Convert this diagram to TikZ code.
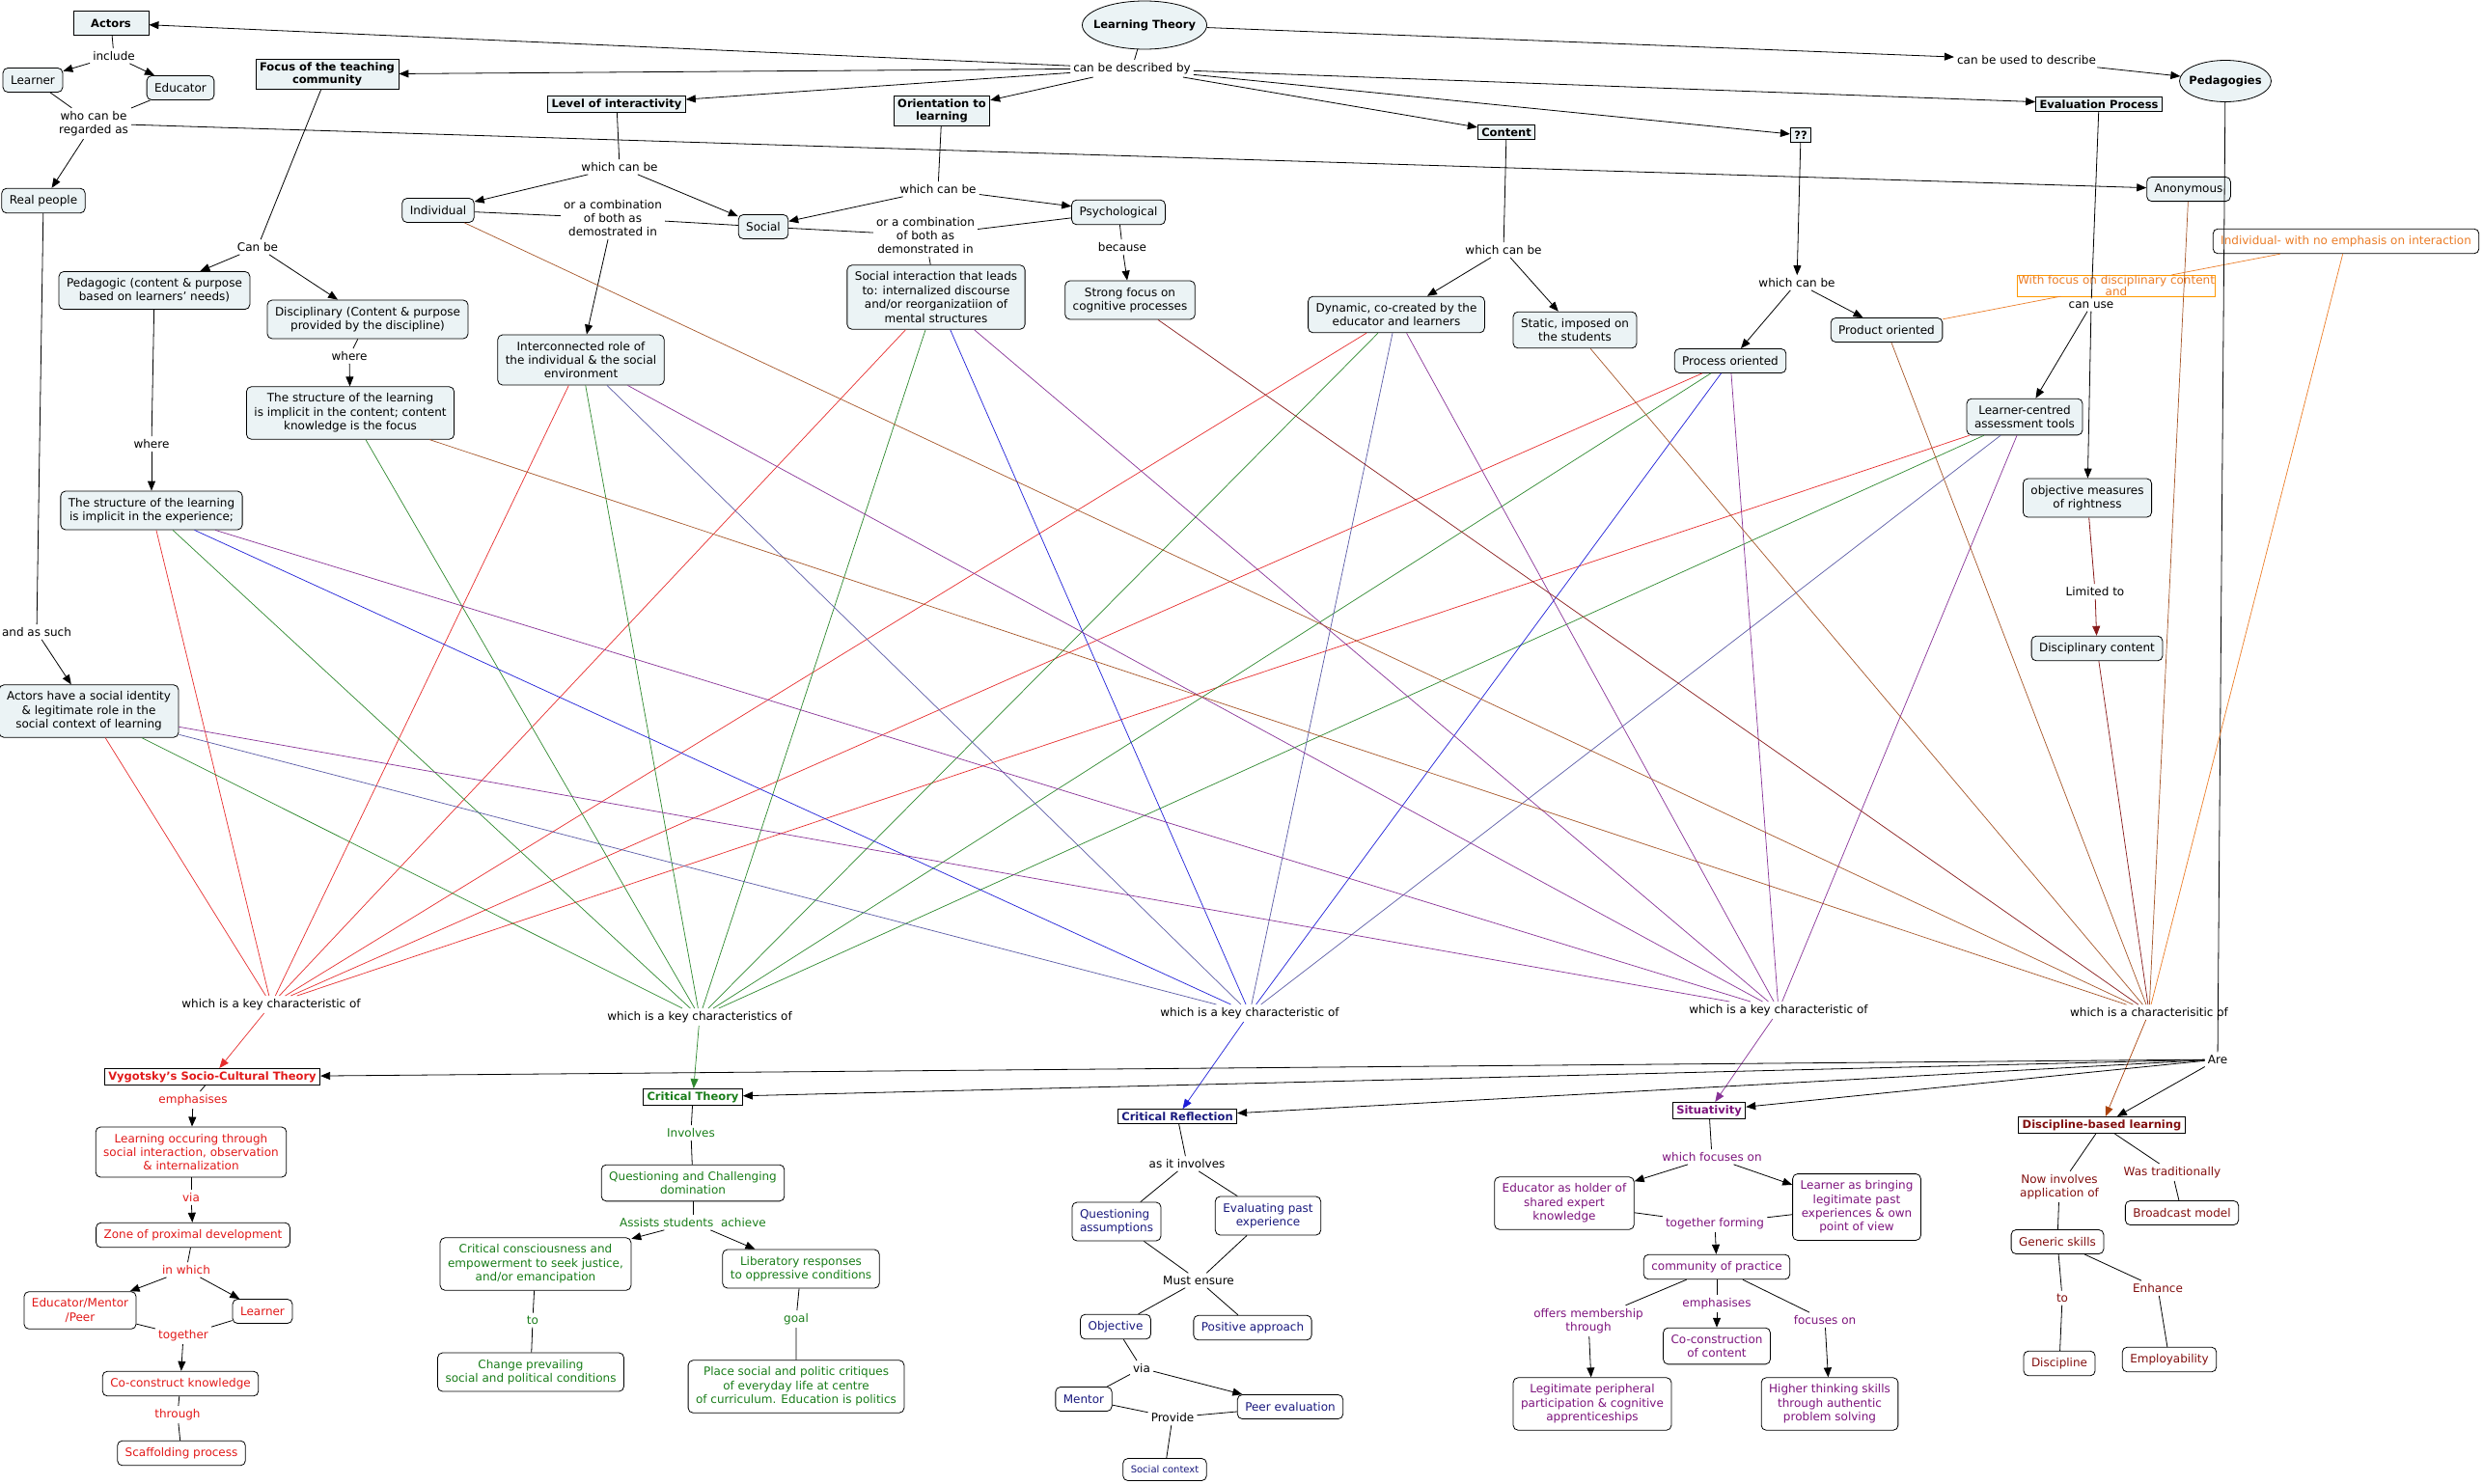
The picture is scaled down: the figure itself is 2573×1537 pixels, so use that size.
\documentclass[tikz,border=0pt]{standalone}
\usepackage{fontspec}
\setmainfont{DejaVu Sans}
\usetikzlibrary{arrows.meta, shapes.geometric, positioning}
\definecolor{cfill}{RGB}{235,243,245}
\definecolor{vred}{RGB}{225,25,25}
\definecolor{vgreen}{RGB}{25,125,25}
\definecolor{vnavy}{RGB}{25,25,125}
\definecolor{vpurple}{RGB}{125,20,125}
\definecolor{vmaroon}{RGB}{130,15,15}
\definecolor{lred}{RGB}{230,45,45}
\definecolor{lgreen}{RGB}{45,135,45}
\definecolor{lblue}{RGB}{30,30,215}
\definecolor{lslate}{RGB}{90,90,165}
\definecolor{lpurple}{RGB}{135,50,150}
\definecolor{lbrown}{RGB}{165,85,40}
\definecolor{lmaroon}{RGB}{135,25,25}
\definecolor{lorange}{RGB}{235,125,40}
\definecolor{lrust}{RGB}{170,65,10}

\begin{document}
\begin{tikzpicture}[
  x=1pt, y=-1pt,
  every node/.style={font=\fontsize{12}{14.4}\selectfont},
  concept/.style={rectangle, draw, rounded corners=5pt, fill=cfill, align=center,
    inner xsep=8pt, inner ysep=7pt, minimum height=25pt, line width=0.8pt},
  plainbox/.style={concept, fill=white},
  topic/.style={rectangle, draw, fill=cfill, align=center, inner xsep=4pt,
    inner ysep=3pt, line width=0.8pt, font=\fontsize{11.5}{13.5}\selectfont\bfseries},
  theory/.style={topic, fill=white},
  oval/.style={ellipse, draw, fill=cfill, line width=0.8pt, inner sep=0pt,
    font=\fontsize{11.5}{13.5}\selectfont\bfseries},
  link/.style={align=center, inner sep=3pt},
  conn/.style={line width=0.8pt},
  arr/.style={-{Triangle[length=10pt, width=8pt]}, line width=0.8pt},
  cline/.style={line width=0.7pt}
]
\useasboundingbox (0,0) rectangle (2573,1537);

% top of the map
\node[oval, minimum width=129pt, minimum height=50pt] (lt) at (1186,26) {\makebox[0pt]{Learning Theory}};
\node[link] (ldesc) at (1173,71) {can be described by};
\node[link] (lused) at (2100,62) {can be used to describe};
\node[oval, minimum width=95pt, minimum height=43pt] (pedagogies) at (2306,84) {\makebox[0pt]{Pedagogies}};

\node[topic, minimum width=78pt, minimum height=25pt] (actors) at (115,24) {Actors};
\node[link] (linc) at (118,58) {include};
\node[concept] (learner) at (34,83) {Learner};
\node[concept] (educator) at (187,91) {Educator};
\node[link] (lregard) at (97,128) {who can be\\regarded as};
\node[concept] (real) at (45,208) {Real people};
\node[link] (lsuch) at (38,655) {and as such};
\node[concept] (identity) at (92,737) {Actors have a social identity\\\& legitimate role in the\\social context of learning};

\node[topic] (focus) at (339,77) {Focus of the teaching\\community};
\node[link] (lcanbe) at (267,256) {Can be};
\node[concept] (pedag) at (160,301) {Pedagogic (content \& purpose\\based on learners' needs)};
\node[concept] (discip) at (381,331) {Disciplinary (Content \& purpose\\provided by the discipline)};
\node[link] (lwhere1) at (157,460) {where};
\node[link] (lwhere2) at (362,369) {where};
\node[concept] (sexp) at (157,529) {The structure of the learning\\is implicit in the experience;};
\node[concept] (scont) at (363,428) {The structure of the learning\\is implicit in the content; content\\knowledge is the focus};

\node[topic] (level) at (639,108) {Level of interactivity};
\node[link] (lwcb1) at (642,173) {which can be};
\node[concept] (indiv) at (454,218) {Individual};
\node[link] (lcomb1) at (635,226) {or a combination\\of both as\\demostrated in};
\node[concept] (social) at (791,235) {Social};
\node[concept] (interc) at (602,373) {Interconnected role of\\the individual \& the social\\environment};

\node[topic] (orient) at (976,115) {Orientation to\\learning};
\node[link] (lwcb2) at (972,196) {which can be};
\node[concept] (psych) at (1159,220) {Psychological};
\node[link] (lcomb2) at (959,244) {or a combination\\of both as\\demonstrated in};
\node[link] (lbecause) at (1163,256) {because};
\node[concept] (sinter) at (970,308) {Social interaction that leads\\to: internalized discourse\\and/or reorganizatiion of\\mental structures};
\node[concept] (strong) at (1171,311) {Strong focus on\\cognitive processes};

\node[topic] (content) at (1561,137) {Content};
\node[link] (lwcb3) at (1558,259) {which can be};
\node[concept] (dynamic) at (1447,326) {Dynamic, co-created by the\\educator and learners};
\node[concept] (static) at (1632,342) {Static, imposed on\\the students};

\node[topic] (qq) at (1866,140) {??};
\node[link] (lwcb4) at (1862,293) {which can be};
\node[concept] (process) at (1793,374) {Process oriented};
\node[concept] (product) at (1955,342) {Product oriented};

\node[topic] (eval) at (2175,108) {Evaluation Process};
\node[concept] (anon) at (2268,196) {Anonymous};
\node[plainbox, text=lorange] (indnoint) at (2431,250) {Individual- with no emphasis on interaction};
\node[rectangle, draw=orange!80!yellow, text=lorange, align=center, inner sep=0pt,
  minimum width=205pt, font=\fontsize{12}{12.5}\selectfont] (wfocus) at (2193,296)
  {With focus on disciplinary content\\and};
\node[link] (lcanuse) at (2167,316) {can use};
\node[concept] (lcat) at (2098,432) {Learner-centred\\assessment tools};
\node[concept] (objm) at (2163,516) {objective measures\\of rightness};
\node[link] (llimited) at (2171,613) {Limited to};
\node[concept] (dcont) at (2173,672) {Disciplinary content};

% key characteristic hubs
\node[link] (hvyg) at (281,1041) {which is a key characteristic of};
\node[link] (hct) at (725,1054) {which is a key characteristics of};
\node[link] (hcr) at (1295,1050) {which is a key characteristic of};
\node[link] (hsit) at (1843,1047) {which is a key characteristic of};
\node[link] (hdbl) at (2227,1049) {which is a characterisitic of};
\node[link] (lare) at (2298,1098) {Are};

% Vygotsky
\node[theory, text=vred] (vyg) at (220,1116) {Vygotsky's Socio-Cultural Theory};
\node[link, text=vred] (lemph1) at (200,1140) {emphasises};
\node[plainbox, text=vred] (learnoc) at (198,1194) {Learning occuring through\\social interaction, observation\\\& internalization};
\node[link, text=vred] (lvia1) at (198,1241) {via};
\node[plainbox, text=vred] (zpd) at (200,1280) {Zone of proximal development};
\node[link, text=vred] (linwhich) at (193,1316) {in which};
\node[plainbox, text=vred] (emp) at (83,1358) {Educator/Mentor\\/Peer};
\node[plainbox, text=vred] (vlearner) at (272,1359) {Learner};
\node[link, text=vred] (ltogether) at (190,1384) {together};
\node[plainbox, text=vred] (coc) at (187,1434) {Co-construct knowledge};
\node[link, text=vred] (lthrough) at (184,1466) {through};
\node[plainbox, text=vred] (scaff) at (188,1506) {Scaffolding process};

% Critical Theory
\node[theory, text=vgreen] (ct) at (718,1137) {Critical Theory};
\node[link, text=vgreen] (linvolves) at (716,1174) {Involves};
\node[plainbox, text=vgreen] (qcd) at (718,1226) {Questioning and Challenging\\domination};
\node[link, text=vgreen] (lassists) at (718,1267) {Assists students\ \ achieve};
\node[plainbox, text=vgreen] (cc) at (555,1310) {Critical consciousness and\\empowerment to seek justice,\\and/or emancipation};
\node[plainbox, text=vgreen] (lib) at (830,1315) {Liberatory responses\\to oppressive conditions};
\node[link, text=vgreen] (lto1) at (552,1368) {to};
\node[plainbox, text=vgreen] (change) at (550,1422) {Change prevailing\\social and political conditions};
\node[link, text=vgreen] (lgoal) at (825,1367) {goal};
\node[plainbox, text=vgreen] (place) at (825,1437) {Place social and politic critiques\\of everyday life at centre\\of curriculum. Education is politics};

% Critical Reflection
\node[theory, text=vnavy] (cr) at (1220,1157) {Critical Reflection};
\node[link] (linvolves2) at (1230,1206) {as it involves};
\node[plainbox, text=vnavy, align=left] (qa) at (1157,1266) {Questioning\\assumptions};
\node[plainbox, text=vnavy] (epe) at (1314,1260) {Evaluating past\\experience};
\node[link] (lmust) at (1242,1327) {Must ensure};
\node[plainbox, text=vnavy] (obj) at (1156,1375) {Objective};
\node[plainbox, text=vnavy] (pos) at (1298,1376) {Positive approach};
\node[link] (lvia2) at (1183,1418) {via};
\node[plainbox, text=vnavy] (mentor) at (1123,1450) {Mentor};
\node[plainbox, text=vnavy] (peer) at (1337,1458) {Peer evaluation};
\node[link] (lprovide) at (1215,1469) {Provide};
\node[plainbox, text=vnavy, minimum height=23pt, inner ysep=5pt,
  font=\fontsize{10}{12}\selectfont] (socctx) at (1207,1523) {Social context};

% Situativity
\node[theory, text=vpurple] (sit) at (1771,1151) {Situativity};
\node[link, text=vpurple] (lfocuses) at (1774,1199) {which focuses on};
\node[plainbox, text=vpurple] (eah) at (1621,1247) {Educator as holder of\\shared expert\\knowledge};
\node[plainbox, text=vpurple] (lab) at (1924,1251) {Learner as bringing\\legitimate past\\experiences \& own\\point of view};
\node[link, text=vpurple] (lforming) at (1777,1268) {together forming};
\node[plainbox, text=vpurple] (cop) at (1779,1313) {community of practice};
\node[link, text=vpurple] (loffers) at (1646,1369) {offers membership\\through};
\node[link, text=vpurple] (lemph2) at (1779,1351) {emphasises};
\node[link, text=vpurple] (lfocon) at (1891,1368) {focuses on};
\node[plainbox, text=vpurple] (coco) at (1779,1395) {Co-construction\\of content};
\node[plainbox, text=vpurple] (lpp) at (1650,1455) {Legitimate peripheral\\participation \& cognitive\\apprenticeships};
\node[plainbox, text=vpurple] (hts) at (1896,1455) {Higher thinking skills\\through authentic\\problem solving};

% Discipline-based learning
\node[theory, text=vmaroon] (dbl) at (2178,1166) {Discipline-based learning};
\node[link, text=vmaroon] (lnow) at (2134,1230) {Now involves\\application of};
\node[link, text=vmaroon] (lwas) at (2251,1215) {Was traditionally};
\node[plainbox, text=vmaroon] (broad) at (2261,1257) {Broadcast model};
\node[plainbox, text=vmaroon] (generic) at (2132,1287) {Generic skills};
\node[link, text=vmaroon] (lto2) at (2137,1345) {to};
\node[link, text=vmaroon] (lenh) at (2236,1335) {Enhance};
\node[plainbox, text=vmaroon] (discipline) at (2134,1413) {Discipline};
\node[plainbox, text=vmaroon] (employ) at (2248,1409) {Employability};

% connectors, top
\draw[conn] (lt) -- (ldesc);
\draw[arr] (ldesc) -- (actors);
\draw[arr] (ldesc) -- (focus);
\draw[arr] (ldesc) -- (level);
\draw[arr] (ldesc) -- (orient);
\draw[arr] (ldesc) -- (content);
\draw[arr] (ldesc) -- (qq);
\draw[arr] (ldesc) -- (eval);
\draw[arr] (lt) -- (lused);
\draw[arr] (lused) -- (pedagogies);
\draw[conn] (actors) -- (linc);
\draw[arr] (linc) -- (learner);
\draw[arr] (linc) -- (educator);
\draw[conn] (learner) -- (lregard);
\draw[conn] (educator) -- (lregard);
\draw[arr] (lregard) -- (real);
\draw[arr] (lregard) -- (anon);
\draw[conn] (real) -- (lsuch);
\draw[arr] (lsuch) -- (identity);
\draw[conn] (focus) -- (lcanbe);
\draw[arr] (lcanbe) -- (pedag);
\draw[arr] (lcanbe) -- (discip);
\draw[conn] (pedag) -- (lwhere1);
\draw[arr] (lwhere1) -- (sexp);
\draw[conn] (discip) -- (lwhere2);
\draw[arr] (lwhere2) -- (scont);
\draw[conn] (level) -- (lwcb1);
\draw[arr] (lwcb1) -- (indiv);
\draw[arr] (lwcb1) -- (social);
\draw[conn] (indiv) -- (lcomb1) -- (social);
\draw[arr] (lcomb1) -- (interc);
\draw[conn] (orient) -- (lwcb2);
\draw[arr] (lwcb2) -- (social);
\draw[arr] (lwcb2) -- (psych);
\draw[conn] (social) -- (lcomb2) -- (psych);
\draw[conn] (lcomb2) -- (sinter);
\draw[conn] (psych) -- (lbecause);
\draw[arr] (lbecause) -- (strong);
\draw[conn] (content) -- (lwcb3);
\draw[arr] (lwcb3) -- (dynamic);
\draw[arr] (lwcb3) -- (static);
\draw[arr] (qq) -- (lwcb4);
\draw[arr] (lwcb4) -- (process);
\draw[arr] (lwcb4) -- (product);
\draw[conn] (eval) -- (lcanuse);
\draw[arr] (lcanuse) -- (lcat);
\draw[arr] (lcanuse) -- (objm);
\draw[conn, lmaroon] (objm) -- (llimited);
\draw[arr, lmaroon] (llimited) -- (dcont);
\draw[cline, lorange] (product) -- (wfocus) -- (indnoint);
\draw[conn] (pedagogies) -- (lare);

% key characteristics
\draw[cline, lred] (sexp) -- (hvyg) (identity) -- (hvyg) (interc) -- (hvyg)
  (sinter) -- (hvyg) (dynamic) -- (hvyg) (process) -- (hvyg) (lcat) -- (hvyg);
\draw[cline, lgreen] (sexp) -- (hct) (scont) -- (hct) (identity) -- (hct)
  (interc) -- (hct) (sinter) -- (hct) (dynamic) -- (hct) (process) -- (hct) (lcat) -- (hct);
\draw[cline, lblue] (sexp) -- (hcr) (sinter) -- (hcr) (process) -- (hcr);
\draw[cline, lslate] (identity) -- (hcr) (interc) -- (hcr) (dynamic) -- (hcr) (lcat) -- (hcr);
\draw[cline, lpurple] (sexp) -- (hsit) (identity) -- (hsit) (interc) -- (hsit)
  (sinter) -- (hsit) (dynamic) -- (hsit) (process) -- (hsit) (lcat) -- (hsit);
\draw[cline, lbrown] (indiv) -- (hdbl) (scont) -- (hdbl) (static) -- (hdbl)
  (product) -- (hdbl) (anon) -- (hdbl);
\draw[cline, lmaroon] (strong) -- (hdbl) (dcont) -- (hdbl);
\draw[cline, lorange] (indnoint) -- (hdbl);
\draw[arr, lred, line width=0.7pt] (hvyg) -- (vyg);
\draw[arr, lgreen, line width=0.7pt] (hct) -- (ct);
\draw[arr, lblue, line width=0.7pt] (hcr) -- (cr);
\draw[arr, lpurple, line width=0.7pt] (hsit) -- (sit);
\draw[arr, lrust, line width=0.7pt] (hdbl) -- (dbl);
\draw[arr] (lare) -- (vyg);
\draw[arr] (lare) -- (ct);
\draw[arr] (lare) -- (cr);
\draw[arr] (lare) -- (sit);
\draw[arr] (lare) -- (dbl);

% connectors, bottom
\draw[conn] (vyg) -- (lemph1);
\draw[arr] (lemph1) -- (learnoc);
\draw[conn] (learnoc) -- (lvia1);
\draw[arr] (lvia1) -- (zpd);
\draw[conn] (zpd) -- (linwhich);
\draw[arr] (linwhich) -- (emp);
\draw[arr] (linwhich) -- (vlearner);
\draw[conn] (emp) -- (ltogether) -- (vlearner);
\draw[arr] (ltogether) -- (coc);
\draw[conn] (coc) -- (lthrough) -- (scaff);

\draw[conn] (ct) -- (linvolves) -- (qcd);
\draw[conn] (qcd) -- (lassists);
\draw[arr] (lassists) -- (cc);
\draw[arr] (lassists) -- (lib);
\draw[conn] (cc) -- (lto1) -- (change);
\draw[conn] (lib) -- (lgoal) -- (place);

\draw[conn] (cr) -- (linvolves2);
\draw[conn] (linvolves2) -- (qa);
\draw[conn] (linvolves2) -- (epe);
\draw[conn] (qa) -- (lmust) -- (epe);
\draw[conn] (lmust) -- (obj);
\draw[conn] (lmust) -- (pos);
\draw[conn] (obj) -- (lvia2) -- (mentor);
\draw[arr] (lvia2) -- (peer);
\draw[conn] (mentor) -- (lprovide) -- (peer);
\draw[conn] (lprovide) -- (socctx);

\draw[conn] (sit) -- (lfocuses);
\draw[arr] (lfocuses) -- (eah);
\draw[arr] (lfocuses) -- (lab);
\draw[conn] (eah) -- (lforming) -- (lab);
\draw[arr] (lforming) -- (cop);
\draw[conn] (cop) -- (loffers);
\draw[arr] (loffers) -- (lpp);
\draw[conn] (cop) -- (lemph2);
\draw[arr] (lemph2) -- (coco);
\draw[conn] (cop) -- (lfocon);
\draw[arr] (lfocon) -- (hts);

\draw[conn] (dbl) -- (lnow) -- (generic);
\draw[conn] (dbl) -- (lwas) -- (broad);
\draw[conn] (generic) -- (lto2) -- (discipline);
\draw[conn] (generic) -- (lenh) -- (employ);
\end{tikzpicture}
\end{document}
